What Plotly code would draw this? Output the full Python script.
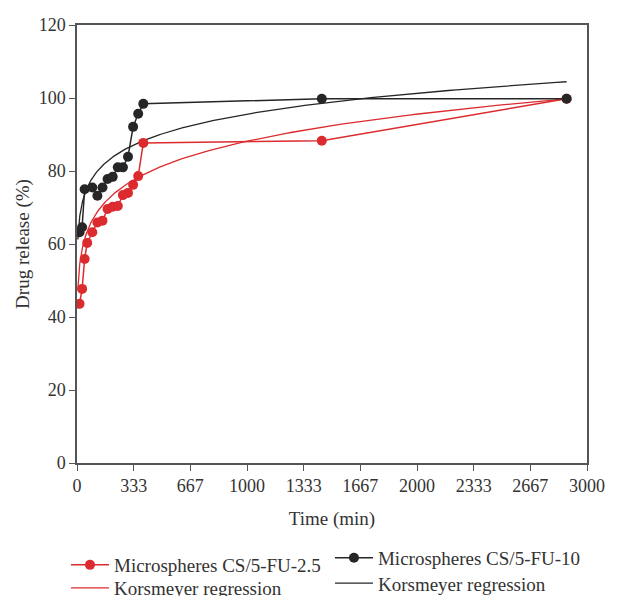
import numpy as np
import plotly.graph_objects as go

# ---- data ----
time_a = [15, 30, 45, 60, 90, 120, 150, 180, 210, 240, 270, 300, 330, 360, 390, 1440, 2880]
release_a = [43.6, 47.7, 55.9, 60.3, 63.2, 65.9, 66.4, 69.6, 70.2, 70.4, 73.4, 74.0, 76.2, 78.6, 87.7, 88.3, 99.8]

time_b = [15, 30, 45, 90, 120, 150, 180, 210, 240, 270, 300, 330, 360, 390, 1440, 2880]
release_b = [63.2, 64.6, 75.0, 75.5, 73.2, 75.5, 77.8, 78.4, 81.0, 81.0, 83.9, 92.1, 95.7, 98.4, 99.8, 99.8]

# Korsmeyer-Peppas regression parameters (Q = k * t^n)
korsmeyer_k_a, korsmeyer_n_a = 39.4, 0.1166
korsmeyer_k_b, korsmeyer_n_b = 53.5, 0.084

x_tickvals = [0, 1000/3, 2000/3, 1000, 4000/3, 5000/3, 2000, 7000/3, 8000/3, 3000]
x_ticktext = ["0", "333", "667", "1000", "1333", "1667", "2000", "2333", "2667", "3000"]
y_tickvals = [0, 20, 40, 60, 80, 100, 120]

names = ["Microspheres CS/5-FU-2.5", "Microspheres CS/5-FU-10", "Korsmeyer regression"]

RED = "#dc2b2e"
BLACK = "#262626"
TXT = "#333333"
FONT = "Liberation Serif"

t_fit = np.geomspace(5, 2880, 300)
fit_a = korsmeyer_k_a * t_fit ** korsmeyer_n_a
fit_b = korsmeyer_k_b * t_fit ** korsmeyer_n_b

fig = go.Figure()
fig.add_trace(go.Scatter(x=t_fit, y=fit_a, mode="lines", name=names[2],
                         line=dict(color=RED, width=1.3), legend="legend3", showlegend=True))
fig.add_trace(go.Scatter(x=t_fit, y=fit_b, mode="lines", name=names[2],
                         line=dict(color=BLACK, width=1.3), legend="legend4", showlegend=True))
fig.add_trace(go.Scatter(x=time_a, y=release_a, mode="lines+markers", name=names[0],
                         line=dict(color=RED, width=1.5),
                         marker=dict(color=RED, size=10), legend="legend", showlegend=True))
fig.add_trace(go.Scatter(x=time_b, y=release_b, mode="lines+markers", name=names[1],
                         line=dict(color=BLACK, width=1.5),
                         marker=dict(color=BLACK, size=10), legend="legend2", showlegend=True))

axis_common = dict(
    showline=True, linecolor="#555555", linewidth=1.5, mirror=True,
    ticks="outside", ticklen=6, tickwidth=1.2, tickcolor="#555555",
    showgrid=False, zeroline=False, automargin=False,
    tickfont=dict(family=FONT, size=18, color=TXT),
)

def leg(x, y):
    return dict(x=x, y=y, xref="paper", yref="container", xanchor="left", yanchor="top",
                orientation="v", font=dict(family=FONT, size=19, color=TXT), itemwidth=38,
                bgcolor="rgba(0,0,0,0)")

fig.update_layout(
    width=634, height=588,
    margin=dict(l=69, r=55, t=17, b=133),
    paper_bgcolor="white", plot_bgcolor="white",
    showlegend=True,
    font=dict(family=FONT, size=19, color=TXT),
    xaxis=dict(range=[0, 3000], tickvals=x_tickvals, ticktext=x_ticktext,
               title=dict(text="Time (min)", font=dict(family=FONT, size=19, color=TXT), standoff=16),
               **axis_common),
    yaxis=dict(range=[0, 120], tickvals=y_tickvals,
               title=dict(text="Drug release (%)", font=dict(family=FONT, size=19, color=TXT), standoff=4),
               **axis_common),
    legend=leg(-0.0216, 0.085),
    legend2=leg(0.496, 0.097),
    legend3=leg(-0.0216, 0.046),
    legend4=leg(0.496, 0.054),
)

fig.write_html("out.html")
